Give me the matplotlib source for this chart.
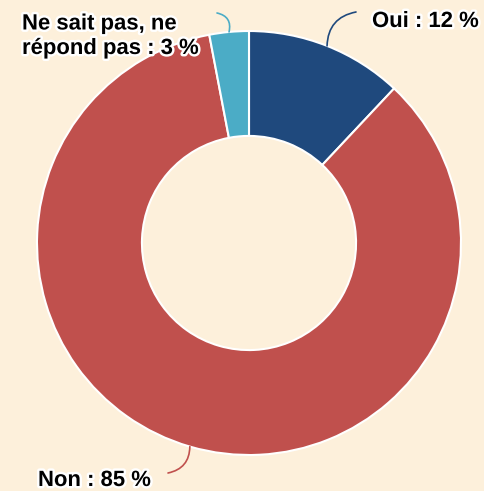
import numpy as np
import matplotlib.pyplot as plt
import matplotlib.patheffects as pe

# Données
labels = ['Oui : 12 %', 'Non : 85 %', 'Ne sait pas, ne\nrépond pas : 3 %']
values = [12, 85, 3]
colors = ['#1F497D', '#C0504D', '#4BACC6']

W, H = 485, 491
bg = '#FDF0DB'
fig = plt.figure(figsize=(W / 100, H / 100), dpi=100, facecolor=bg)
ax = fig.add_axes([0, 0, 1, 1])

cx, cy, R = 249, H - 243, 212
wedges, _ = ax.pie(values, colors=colors, startangle=90, counterclock=False,
                   center=(cx, cy), radius=R, frame=True,
                   wedgeprops=dict(width=R * 0.495, edgecolor='white', linewidth=1.5))
ax.set_xlim(0, W)
ax.set_ylim(0, H)
ax.set_aspect('equal')
ax.axis('off')

# position des étiquettes (fin du trait, début du texte) et courbure
line_end = [(356, H - 12), (168, H - 473), (217, H - 13)]
rads = [-0.4, -0.4, 0.5]
text_pos = [(372, H - 27), (38, H - 486), (22, H - 54)]

halo = [pe.withStroke(linewidth=3.5, foreground='white')]
for w, lab, c, end, rad, tp in zip(wedges, labels, colors, line_end, rads, text_pos):
    ang = np.deg2rad((w.theta1 + w.theta2) / 2)
    start = (cx + R * np.cos(ang), cy + R * np.sin(ang))
    ax.annotate('', xy=start, xytext=end,
                arrowprops=dict(arrowstyle='-', color=c, lw=1.2,
                                connectionstyle=f'arc3,rad={-rad}',
                                shrinkA=0, shrinkB=0))
    ax.text(tp[0], tp[1], lab, ha='left', va='baseline', fontsize=15.9,
            fontweight='bold', family='Liberation Sans', color='black',
            linespacing=1.22, path_effects=halo)

fig.savefig('out.png', dpi=100, facecolor=bg)
